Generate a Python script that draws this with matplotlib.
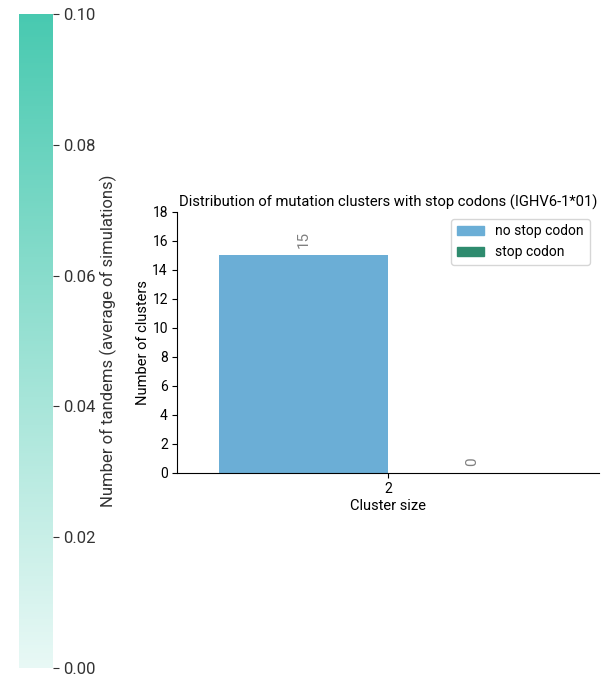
import matplotlib
matplotlib.use('Agg')
import matplotlib.pyplot as plt
from matplotlib.colors import LinearSegmentedColormap, Normalize
from matplotlib.patches import Patch
import matplotlib.cm as cm
import numpy as np

plt.rcParams['font.family'] = ['Roboto', 'DejaVu Sans']

cluster_sizes = ['2']
categories = ['no stop codon', 'stop codon']
counts = [15, 0]
colors = ['#6baed6', '#2e8b6e']

cbar_min, cbar_max = 0.0, 0.10
cbar_ticks = [0.00, 0.02, 0.04, 0.06, 0.08, 0.10]

fig = plt.figure(figsize=(6.05, 6.97), dpi=100)

# colour bar on the left
cax = fig.add_axes([0.031, 0.0416, 0.056, 0.938])
cmap = LinearSegmentedColormap.from_list('tand', ['#e8f8f5', '#48c9b0'])
sm = cm.ScalarMappable(norm=Normalize(cbar_min, cbar_max), cmap=cmap)
cb = fig.colorbar(sm, cax=cax, ticks=cbar_ticks)
cb.outline.set_visible(False)
cb.ax.tick_params(labelsize=12, length=4, colors='#333333')
cb.ax.set_yticklabels([f'{t:.2f}' for t in cbar_ticks])
cb.set_label('Number of tandems (average of simulations)', fontsize=12, color='#333333', labelpad=3)

# bar chart
ax = fig.add_axes([0.2926, 0.3214, 0.697, 0.3745])
n = len(categories)
w = 0.8 / n
x = np.arange(len(cluster_sizes))
for i, (cat, c, col) in enumerate(zip(categories, counts, colors)):
    pos = x - 0.4 + w * (i + 0.5)
    ax.bar(pos, [c], width=w, color=col, label=cat)
    ax.text(pos[0], c + 0.5, str(c), rotation=90, ha='center', va='bottom',
            fontsize=11, color='gray')

ax.set_xlim(-0.5, 0.5)
ax.set_ylim(0, 18)
ax.set_yticks(np.arange(0, 19, 2))
ax.set_xticks(x)
ax.set_xticklabels(cluster_sizes)
ax.tick_params(axis='both', labelsize=10, length=3.5, pad=3)
ax.set_xlabel('Cluster size', fontsize=10.5, labelpad=2)
ax.set_ylabel('Number of clusters', fontsize=10.5, labelpad=1.5)
ax.set_title('Distribution of mutation clusters with stop codons (IGHV6-1*01)', fontsize=10.6, pad=4)
for s in ['top', 'right']:
    ax.spines[s].set_visible(False)

handles = [Patch(color=col, label=cat) for cat, col in zip(categories, colors)]
ax.legend(handles=handles, loc='upper right', fontsize=10, frameon=True,
          bbox_to_anchor=(0.995, 1.0))

fig.savefig('out.png', dpi=100)
